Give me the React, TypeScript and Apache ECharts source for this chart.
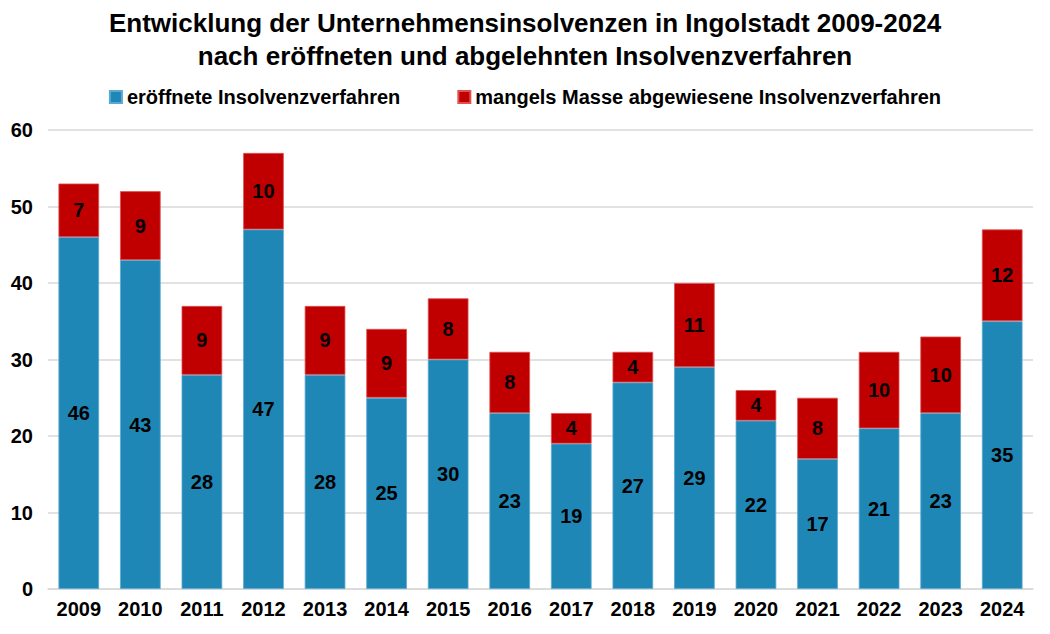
import React, { useEffect, useRef } from "react";
import * as echarts from "echarts";

const years = ["2009","2010","2011","2012","2013","2014","2015","2016","2017","2018","2019","2020","2021","2022","2023","2024"];
const eroeffnet = [46,43,28,47,28,25,30,23,19,27,29,22,17,21,23,35];
const abgewiesen = [7,9,9,10,9,9,8,8,4,4,11,4,8,10,10,12];
const yTicks = [0, 10, 20, 30, 40, 50, 60];

const FONT = "'Liberation Sans', Arial, sans-serif";

export default function App() {
  const ref = useRef<HTMLDivElement>(null);
  useEffect(() => {
    document.body.style.margin = "0";
    const chart = echarts.init(ref.current!, null, { renderer: "svg" });
    const labelStyle = {
      show: true,
      position: "inside" as const,
      color: "#000",
      fontFamily: FONT,
      fontWeight: "bold" as const,
      fontSize: 20,
    };
    chart.setOption({
      animation: false,
      backgroundColor: "#fff",
      title: {
        text: "Entwicklung der Unternehmensinsolvenzen in Ingolstadt 2009-2024\nnach eröffneten und abgelehnten Insolvenzverfahren",
        left: "center",
        top: 1,
        textStyle: { fontFamily: FONT, fontWeight: "bold", fontSize: 26, lineHeight: 33, color: "#000" },
      },
      legend: {
        top: 82,
        left: "center",
        itemWidth: 12,
        itemHeight: 12,
        itemGap: 57,
        icon: "rect",
        textStyle: { fontFamily: FONT, fontWeight: "bold", fontSize: 20, color: "#000" },
        data: ["eröffnete Insolvenzverfahren", "mangels Masse abgewiesene Insolvenzverfahren"],
      },
      grid: { left: 48, right: 17, top: 130, bottom: 45, containLabel: false },
      xAxis: {
        type: "category",
        data: years,
        axisTick: { show: false },
        axisLine: { lineStyle: { color: "#d9d9d9", width: 1.5 } },
        axisLabel: { fontFamily: FONT, fontWeight: "bold", fontSize: 20, color: "#000", margin: 10 },
      },
      yAxis: {
        type: "value",
        min: yTicks[0],
        max: yTicks[yTicks.length - 1],
        interval: 10,
        axisLine: { show: false },
        axisTick: { show: false },
        splitLine: { lineStyle: { color: "#d9d9d9", width: 1.5 } },
        axisLabel: { fontFamily: FONT, fontWeight: "bold", fontSize: 20, color: "#000", margin: 15 },
      },
      series: [
        {
          name: "eröffnete Insolvenzverfahren",
          type: "bar",
          stack: "total",
          data: eroeffnet,
          barWidth: "66%",
          itemStyle: { color: "#1f87b6", borderColor: "#5aa9d0", borderWidth: 0.8 },
          label: labelStyle,
        },
        {
          name: "mangels Masse abgewiesene Insolvenzverfahren",
          type: "bar",
          stack: "total",
          data: abgewiesen,
          barWidth: "66%",
          itemStyle: { color: "#c00000", borderColor: "#e05050", borderWidth: 0.8 },
          label: labelStyle,
        },
      ],
    });
    return () => chart.dispose();
  }, []);
  return <div ref={ref} style={{ width: 1050, height: 634 }} />;
}
